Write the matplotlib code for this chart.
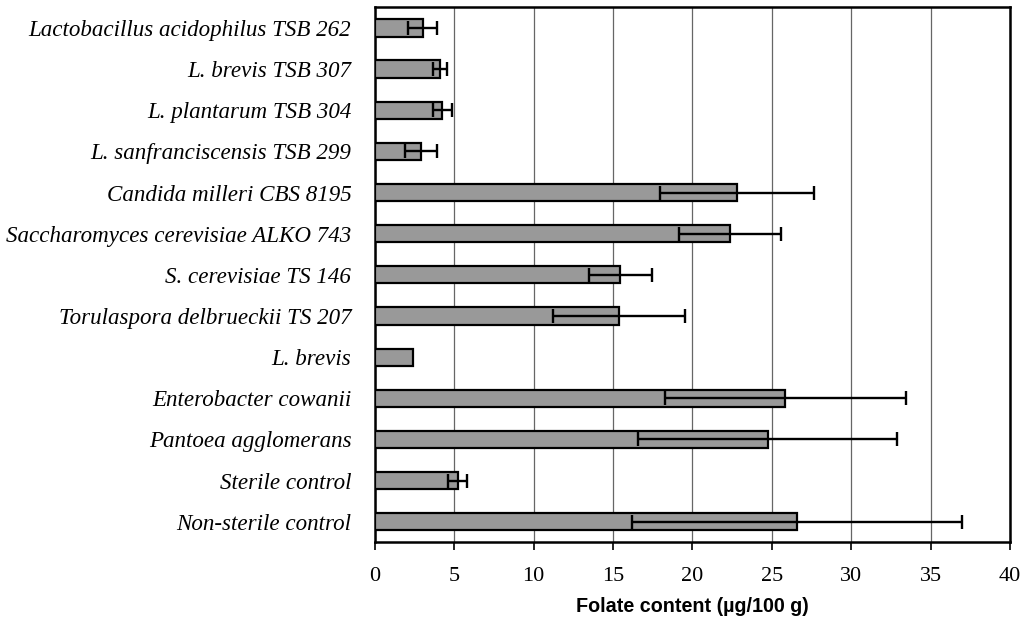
import numpy as np
import matplotlib
matplotlib.use("Agg")
import matplotlib.pyplot as plt

strains = [
    "Lactobacillus acidophilus TSB 262",
    "L. brevis TSB 307",
    "L. plantarum TSB 304",
    "L. sanfranciscensis TSB 299",
    "Candida milleri CBS 8195",
    "Saccharomyces cerevisiae ALKO 743",
    "S. cerevisiae TS 146",
    "Torulaspora delbrueckii TS 207",
    "L. brevis",
    "Enterobacter cowanii",
    "Pantoea agglomerans",
    "Sterile control",
    "Non-sterile control",
]
folate = [3.0, 4.1, 4.25, 2.9, 22.8, 22.35, 15.45, 15.35, 2.4, 25.85, 24.75, 5.2, 26.6]
folate_sd = [0.9, 0.45, 0.6, 1.0, 4.85, 3.2, 1.97, 4.15, np.nan, 7.6, 8.15, 0.6, 10.4]
xticks = [0, 5, 10, 15, 20, 25, 30, 35, 40]

fig = plt.figure(figsize=(10.31, 6.21), dpi=100)
ax = fig.add_axes([0.3637, 0.1267, 0.6159, 0.8614])

ypos = np.arange(len(strains))
ax.barh(ypos, folate, height=0.42, color="#999999", edgecolor="black",
        linewidth=1.6, zorder=3)
ax.errorbar(folate, ypos, xerr=folate_sd, fmt="none", ecolor="black",
            elinewidth=1.7, capsize=5, capthick=1.7, zorder=4)

ax.set_xlim(0, 40)
ax.set_ylim(len(strains) - 0.5, -0.5)
ax.set_xticks(xticks)
ax.set_xticklabels([str(t) for t in xticks], family="Liberation Serif",
                   fontsize=16)
ax.set_yticks(ypos)
ax.set_yticklabels(strains, family="Liberation Serif", style="italic",
                   fontsize=16.6)
ax.tick_params(axis="y", length=0, pad=17)
ax.tick_params(axis="x", direction="out", length=6, width=1.2, pad=12)

ax.xaxis.grid(True, color="#666666", linewidth=0.9, zorder=0)
ax.set_axisbelow(True)
for s in ax.spines.values():
    s.set_linewidth(1.8)
    s.set_color("black")

ax.set_xlabel("Folate content (µg/100 g)", family="Liberation Sans",
              fontweight="bold", fontsize=14.2, labelpad=8)

fig.savefig("out.png", dpi=100, facecolor="white")
